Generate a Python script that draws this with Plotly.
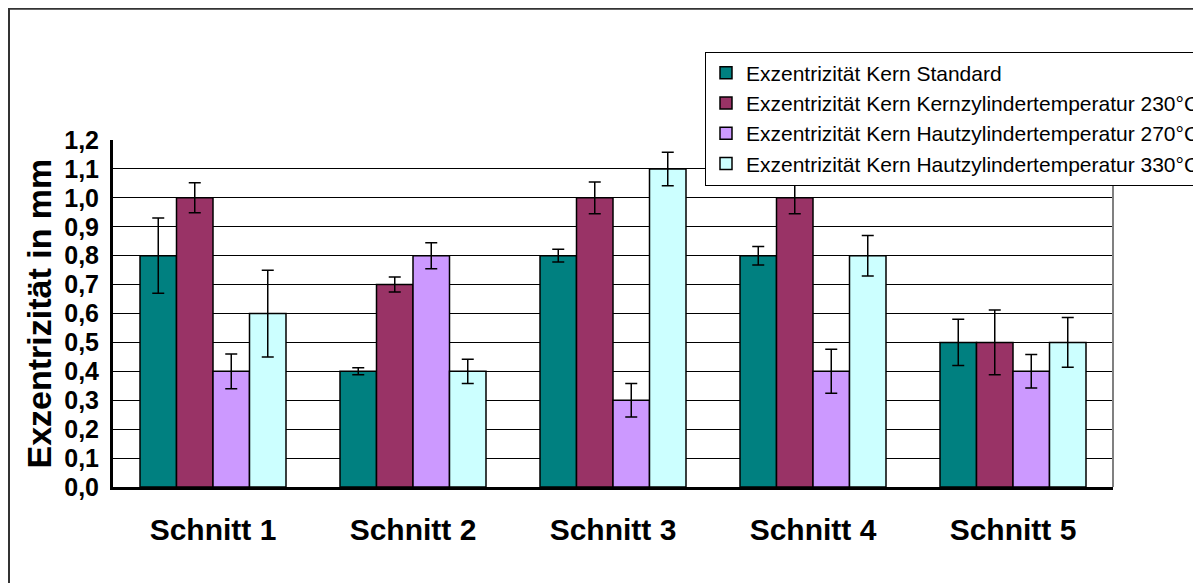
import plotly.graph_objects as go

categories = ["Schnitt 1", "Schnitt 2", "Schnitt 3", "Schnitt 4", "Schnitt 5"]
series_names = [
    "Exzentrizität Kern Standard",
    "Exzentrizität Kern Kernzylindertemperatur 230°C",
    "Exzentrizität Kern Hautzylindertemperatur 270°C",
    "Exzentrizität Kern Hautzylindertemperatur 330°C",
]
standard = [0.8, 0.4, 0.8, 0.8, 0.5]
kern_230 = [1.0, 0.7, 1.0, 1.0, 0.5]
haut_270 = [0.4, 0.8, 0.3, 0.4, 0.4]
haut_330 = [0.6, 0.4, 1.1, 0.8, 0.5]
err_standard = [0.13, 0.012, 0.022, 0.032, 0.08]
err_kern_230 = [0.052, 0.026, 0.055, 0.055, 0.112]
err_haut_270 = [0.06, 0.045, 0.058, 0.076, 0.058]
err_haut_330 = [0.15, 0.042, 0.058, 0.07, 0.086]
colors = ["#008080", "#993366", "#CC99FF", "#CCFFFF"]
y_ticks = [round(i * 0.1, 1) for i in range(13)]
y_ticktext = [f"{v:.1f}".replace(".", ",") for v in y_ticks]

values = [standard, kern_230, haut_270, haut_330]
errors = [err_standard, err_kern_230, err_haut_270, err_haut_330]

FONT = "Liberation Sans, Arial, sans-serif"

fig = go.Figure()
for name, vals, errs, col in zip(series_names, values, errors, colors):
    fig.add_trace(go.Bar(
        x=categories, y=vals, name=name,
        marker=dict(color=col, line=dict(color="black", width=1.5)),
        error_y=dict(type="data", array=errs, visible=True, color="black",
                     thickness=1.5, width=6),
    ))

fig.update_layout(
    width=1201, height=583,
    margin=dict(l=105, r=96, t=132, b=104, autoexpand=False),
    paper_bgcolor="white", plot_bgcolor="white",
    barmode="group", bargap=0.27, bargroupgap=0,
    font=dict(family=FONT, color="black"),
    showlegend=True,
    legend=dict(
        x=0.592, y=1.255, xanchor="left", yanchor="top",
        bgcolor="white", bordercolor="black", borderwidth=1,
        font=dict(size=21, family=FONT),
        tracegroupgap=0, itemwidth=30,
    ),
    xaxis=dict(
        showgrid=False, showline=True, linecolor="black", linewidth=3,
        ticks="outside", ticklen=14, tickcolor="rgba(0,0,0,0)",
        tickfont=dict(size=30, family=FONT, weight="bold"),
    ),
    yaxis=dict(
        range=[0, 1.2], tickvals=y_ticks, ticktext=y_ticktext,
        showgrid=True, gridcolor="black", gridwidth=1,
        showline=True, linecolor="black", linewidth=3,
        ticks="outside", ticklen=6, tickcolor="rgba(0,0,0,0)",
        tickfont=dict(size=25, family=FONT, weight="bold"),
        zeroline=False,
    ),
    shapes=[
        dict(type="line", xref="paper", yref="paper", x0=1, x1=1, y0=0, y1=1,
             line=dict(color="#808080", width=2)),
        dict(type="rect", xref="paper", yref="paper", x0=-0.104, x1=1.085,
             y0=-0.35, y1=1.378, line=dict(color="#333333", width=2),
             layer="below"),
    ],
    annotations=[
        dict(text="Exzentrizität in mm", xref="paper", yref="paper",
             x=-0.075, y=0.5, textangle=-90, showarrow=False,
             xanchor="center", yanchor="middle",
             font=dict(size=34, family=FONT, weight="bold")),
    ],
)

fig.write_html("out.html")
